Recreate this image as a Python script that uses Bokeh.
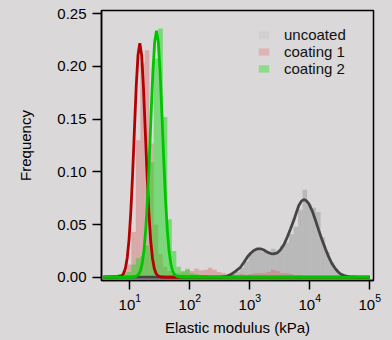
import numpy as np
from bokeh.plotting import figure
from bokeh.models import Range1d, NumeralTickFormatter, FixedTicker, Legend, LegendItem
from bokeh.embed import file_html
from bokeh.resources import INLINE

# ---------------- data ----------------
# histogram bins are regular in log10(kPa)
bin_width_log = 0.075
coating_bins_start_log = 0.575
uncoated_bins_start_log = 2.38

uncoated_freq = [0.001, 0.001, 0.002, 0.002, 0.003, 0.005, 0.009, 0.015, 0.022, 0.025,
                 0.025, 0.024, 0.022, 0.027, 0.025, 0.030, 0.033, 0.041, 0.048, 0.064,
                 0.083, 0.069, 0.066, 0.062, 0.038, 0.024, 0.014, 0.008, 0.004, 0.002]

coating1_freq = [0.001, 0.002, 0.002, 0.003, 0.006, 0.012, 0.043, 0.130, 0.203, 0.2155,
                 0.127, 0.050, 0.022, 0.010, 0.006, 0.004, 0.004, 0.005, 0.008, 0.006,
                 0.008, 0.0065, 0.007, 0.009, 0.007, 0.005, 0.004, 0.003, 0.003, 0.002,
                 0.003, 0.002, 0.003, 0.004, 0.004, 0.004, 0.005, 0.007, 0.006, 0.004,
                 0.004, 0.003, 0.002, 0.002, 0.001, 0.001]

coating2_freq = [0.002, 0.002, 0.002, 0.003, 0.003, 0.005, 0.012, 0.018, 0.020, 0.030,
                 0.109, 0.2076, 0.236, 0.152, 0.055, 0.025, 0.010, 0.006, 0.007, 0.004,
                 0.003, 0.002, 0.002, 0.001, 0.001, 0.001]

# density curves: log10(kPa) and frequency
uncoated_curve_logx = [0.56, 2.50, 2.60, 2.68, 2.76, 2.845, 2.90, 2.957, 3.01, 3.067,
                       3.12, 3.178, 3.235, 3.29, 3.35, 3.40, 3.46, 3.512, 3.57, 3.623,
                       3.68, 3.733, 3.78, 3.817, 3.86, 3.90, 3.94, 3.983, 4.04, 4.095,
                       4.15, 4.207, 4.26, 4.317, 4.37, 4.428, 4.47, 4.512, 4.56, 4.623,
                       4.70, 4.80, 5.0]
uncoated_curve_y = [0.0, 0.0, 0.0005, 0.0025, 0.0055, 0.0095, 0.014, 0.019, 0.0225, 0.0254,
                    0.0268, 0.027, 0.0258, 0.0238, 0.0225, 0.0222, 0.0232, 0.026, 0.031, 0.038,
                    0.046, 0.054, 0.062, 0.068, 0.0722, 0.0736, 0.0728, 0.0698, 0.063, 0.054,
                    0.0445, 0.035, 0.027, 0.019, 0.0128, 0.008, 0.0052, 0.003, 0.0018, 0.0008,
                    0.0002, 0.0, 0.0]

coating1_curve_logx = [0.56, 0.80, 0.867, 0.897, 0.927, 0.957, 0.987, 1.017, 1.047, 1.077,
                       1.107, 1.137, 1.167, 1.197, 1.227, 1.257, 1.287, 1.317, 1.347, 1.377,
                       1.407, 1.437, 1.467, 1.517, 1.60, 5.0]
coating1_curve_y = [0.0, 0.0002, 0.0014, 0.0036, 0.0085, 0.0183, 0.0355, 0.062, 0.098, 0.140,
                    0.181, 0.211, 0.222, 0.211, 0.181, 0.140, 0.098, 0.062, 0.0355, 0.0183,
                    0.0085, 0.0036, 0.0014, 0.0002, 0.0, 0.0]

coating2_curve_logx = [0.56, 1.045, 1.095, 1.145, 1.175, 1.205, 1.235, 1.265, 1.295, 1.325,
                       1.355, 1.385, 1.415, 1.445, 1.475, 1.505, 1.535, 1.565, 1.595, 1.625,
                       1.655, 1.685, 1.715, 1.745, 1.795, 1.845, 5.0]
coating2_curve_y = [0.0, 0.0, 0.0005, 0.0024, 0.0057, 0.0124, 0.0246, 0.0448, 0.0742, 0.1122,
                    0.1548, 0.1948, 0.2235, 0.234, 0.2235, 0.1948, 0.1548, 0.1122, 0.0742, 0.0448,
                    0.0246, 0.0124, 0.0057, 0.0024, 0.0005, 0.0, 0.0]

series_names = ["uncoated", "coating 1", "coating 2"]
y_ticks = [0.0, 0.05, 0.10, 0.15, 0.20, 0.25]
x_ticks = [10, 100, 1000, 10000, 100000]

# ---------------- plot ----------------
BG = "#dad8d8"
FONT = "Liberation Sans"

p = figure(width=392, height=340, x_axis_type="log",
           x_range=Range1d(3.375, 115300), y_range=Range1d(-0.0031, 0.2531),
           output_backend="svg", toolbar_location=None,
           min_border_left=101, min_border_right=19, min_border_top=10, min_border_bottom=60)
p.background_fill_color = BG
p.border_fill_color = BG
p.outline_line_color = "black"
p.outline_line_width = 1.5
p.grid.visible = False


def bins(start, n):
    lo = start + bin_width_log * np.arange(n)
    return 10 ** lo, 10 ** (lo + bin_width_log)


ul, ur = bins(uncoated_bins_start_log, len(uncoated_freq))
c1l, c1r = bins(coating_bins_start_log, len(coating1_freq))
c2l, c2r = bins(coating_bins_start_log, len(coating2_freq))

p.quad(left=ul, right=ur, bottom=0, top=uncoated_freq,
       fill_color="#9a9a9a", fill_alpha=0.5, line_color=None)
p.quad(left=c1l, right=c1r, bottom=0, top=coating1_freq,
       fill_color="#d86868", fill_alpha=0.42, line_color=None)
p.quad(left=c2l, right=c2r, bottom=0, top=coating2_freq,
       fill_color="#18d818", fill_alpha=0.5, line_color=None)

p.line(10 ** np.array(uncoated_curve_logx), uncoated_curve_y, line_color="#454545", line_width=2.8)
p.line(10 ** np.array(coating1_curve_logx), coating1_curve_y, line_color="#b40000", line_width=2.8)
p.line(10 ** np.array(coating2_curve_logx), coating2_curve_y, line_color="#00c400", line_width=2.8)

# legend swatches: zero-size quads at each series' first bin edge, shown only in the legend
lg_u = p.quad(left=[ul[0]], right=[ul[0]], bottom=[0], top=[0], fill_color="#d0d0d0", line_color=None)
lg_c1 = p.quad(left=[c1l[0]], right=[c1l[0]], bottom=[0], top=[0], fill_color="#deb4b4", line_color=None)
lg_c2 = p.quad(left=[c2l[0]], right=[c2l[0]], bottom=[0], top=[0], fill_color="#8cdc8c", line_color=None)

# axes
p.xaxis.ticker = FixedTicker(ticks=x_ticks)
p.yaxis.ticker = FixedTicker(ticks=y_ticks)
p.yaxis.formatter = NumeralTickFormatter(format="0.00")
for ax in (p.xaxis, p.yaxis):
    ax.axis_line_color = "black"
    ax.axis_line_width = 1.5
    ax.major_tick_line_color = "black"
    ax.major_tick_line_width = 1.5
    ax.major_tick_in = 0
    ax.major_tick_out = 9
    ax.minor_tick_line_color = None
    ax.major_label_text_font = FONT
    ax.major_label_text_font_size = "15px"
    ax.major_label_text_color = "black"
    ax.axis_label_text_font = FONT
    ax.axis_label_text_font_size = "15px"
    ax.axis_label_text_font_style = "normal"
    ax.axis_label_text_color = "black"
p.xaxis.axis_label = "Elastic modulus (kPa)"
p.yaxis.axis_label = "Frequency"
p.xaxis.major_label_standoff = 4
p.yaxis.major_label_standoff = 6
p.xaxis.axis_label_standoff = 6
p.yaxis.axis_label_standoff = 20

legend = Legend(items=[LegendItem(label=series_names[0], renderers=[lg_u]),
                       LegendItem(label=series_names[1], renderers=[lg_c1]),
                       LegendItem(label=series_names[2], renderers=[lg_c2])],
                location=(156, 203), margin=0, padding=0, spacing=0,
                glyph_width=13, glyph_height=9, label_height=17, label_standoff=14,
                label_text_font=FONT, label_text_font_size="15px", label_text_color="#111111",
                background_fill_alpha=0, border_line_color=None)
p.add_layout(legend)

template = """{% block postamble %}<style>html, body { background-color: #dad8d8; }</style>{% endblock %}"""
open("out.html", "w").write(file_html(p, INLINE, template=template))
